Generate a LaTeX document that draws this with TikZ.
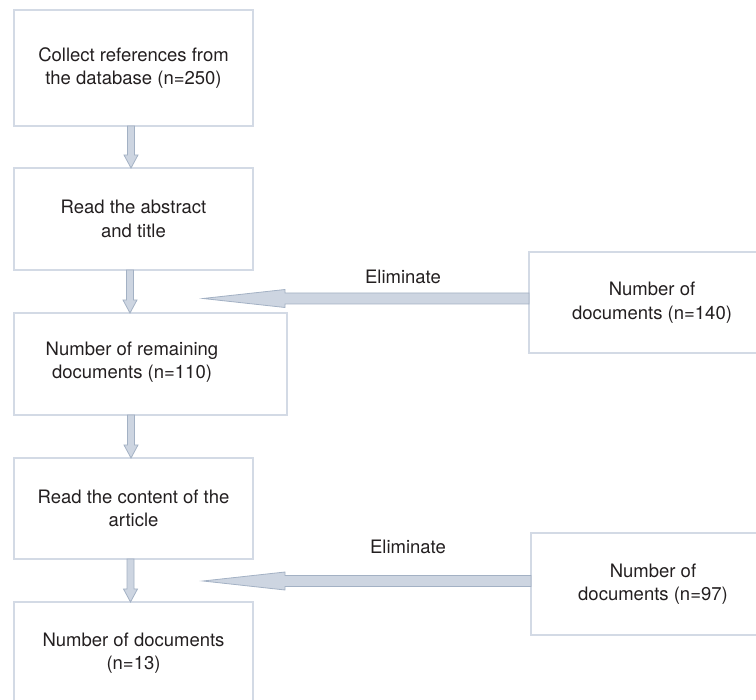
\documentclass[tikz,border=0pt]{standalone}
\usepackage{fontspec}
\setmainfont{TeX Gyre Heros}
\usetikzlibrary{calc}
\definecolor{boxline}{HTML}{D3DAE5}
\definecolor{arrfillc}{HTML}{CDD5E1}
\definecolor{arrlinec}{HTML}{A3B1C4}
\definecolor{txtc}{HTML}{231F20}
\tikzset{
  box/.style={draw=boxline, line width=1.2pt, rectangle, inner sep=0pt, outer sep=0pt,
    align=center, text=txtc, font=\fontsize{18.5}{23.5}\selectfont},
  txt/.style={inner sep=0pt, outer sep=0pt, align=center, text=txtc, font=\fontsize{18.5}{23.5}\selectfont},
  blockarr/.style={fill=arrfillc, draw=arrlinec, line width=0.8pt, line join=miter}
}
\newcommand{\vblockarrow}[2]{%
  \path[blockarr] let \p1=(#1), \p2=(#2) in
    (\x1-3.5pt,\y1) -- (\x1+3.5pt,\y1) -- (\x1+3.5pt,\y2+13pt) -- (\x1+7pt,\y2+13pt)
    -- (\x1,\y2) -- (\x1-7pt,\y2+13pt) -- (\x1-3.5pt,\y2+13pt) -- cycle;}
\newcommand{\hblockarrow}[2]{%
  \path[blockarr] let \p1=(#1), \p2=(#2) in
    (\x1,\y1+5.5pt) -- (\x2+82pt,\y1+5.5pt) -- (\x2+82pt,\y1+9pt) -- (\x2,\y1)
    -- (\x2+82pt,\y1-9pt) -- (\x2+82pt,\y1-5.5pt) -- (\x1,\y1-5.5pt) -- cycle;}
\begin{document}
\begin{tikzpicture}[x=1pt,y=-1pt]
\useasboundingbox (0,0) rectangle (756,700);
\node[box, minimum width=239pt, minimum height=116pt] (b1) at (133.5,68)
  {Collect references from\\the database (n=250)};
\node[box, minimum width=239pt, minimum height=102pt] (b2) at (133.5,219)
  {Read the abstract\\and title};
\node[box, minimum width=273pt, minimum height=102pt] (b3) at (150.5,364) {};
\node[txt] (t3) at (132,362) {Number of remaining\\documents (n=110)};
\node[box, minimum width=239pt, minimum height=101pt] (b4) at (133.5,508.5)
  {Read the content of the\\article};
\node[box, minimum width=239pt, minimum height=102pt] (b5) at (133.5,653)
  {Number of documents\\(n=13)};
\node[box, minimum width=246pt, minimum height=101pt] (r1) at (652,302.5)
  {Number of\\documents (n=140)};
\node[box, minimum width=244pt, minimum height=102pt] (r2) at (653,584)
  {Number of\\documents (n=97)};
\node[txt] (e1) at (403,277) {Eliminate};
\node[txt] (e2) at (408,547) {Eliminate};
\coordinate (tip1) at (203,298.5);
\coordinate (tip2) at (203,581);
\vblockarrow{$(b1.south)+(-2.5,0)$}{$(b2.north)+(-2.5,0)$}
\vblockarrow{$(b2.south)+(-3.5,0)$}{$(b3.north)+(-3.5,0)$}
\vblockarrow{$(b3.south)+(-19.5,0)$}{$(b4.north)+(-2.5,0)$}
\vblockarrow{$(b4.south)+(-3,0)$}{$(b5.north)+(-3,0)$}
\hblockarrow{$(r1.west)+(0,-4)$}{tip1}
\hblockarrow{$(r2.west)+(0,-3)$}{tip2}
\end{tikzpicture}
\end{document}
